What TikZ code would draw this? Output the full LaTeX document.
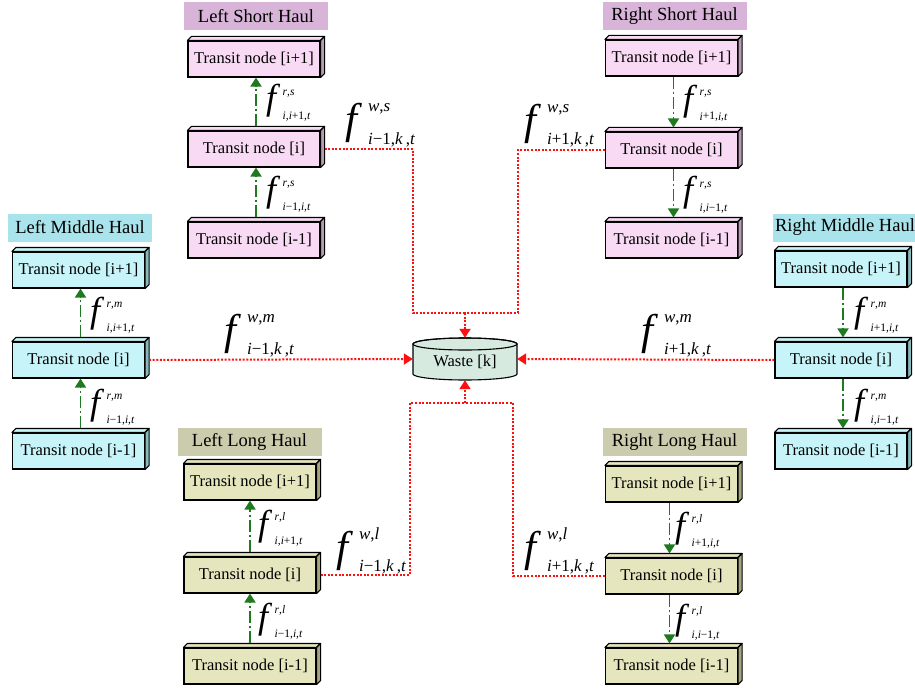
\documentclass[tikz,border=0pt]{standalone}
\usepackage{fontspec}
\setmainfont{Liberation Serif}
\usetikzlibrary{arrows.meta}

\definecolor{pinkbox}{HTML}{F9DAF4}
\definecolor{pinkside}{HTML}{B99AB4}
\definecolor{pinklab}{HTML}{D8B5D8}
\definecolor{cyanbox}{HTML}{C6F4F8}
\definecolor{cyanside}{HTML}{86B8BC}
\definecolor{cyanlab}{HTML}{A9E4EC}
\definecolor{olivebox}{HTML}{E5E5BE}
\definecolor{oliveside}{HTML}{A5A57E}
\definecolor{olivelab}{HTML}{CBCBAD}
\definecolor{wastefill}{HTML}{D6EAE0}
\definecolor{flowgreen}{HTML}{1F7A1F}
\definecolor{wastered}{HTML}{FF1010}

\tikzset{
  tnode/.style={draw=black, line width=1.1pt, minimum width=132pt, minimum height=36pt,
    inner sep=0pt, font=\fontsize{16.5}{18}\selectfont},
  haul/.style={minimum width=144pt, minimum height=28pt, inner sep=0pt,
    font=\fontsize{18.5}{20}\selectfont},
  flow/.style={draw=flowgreen, line width=1.8pt, dash pattern=on 12pt off 3pt on 2pt off 3pt,
    -{Triangle[width=11pt,length=9pt]}},
  wline/.style={draw=wastered, line width=2pt, dash pattern=on 2pt off 1.6pt},
  warrow/.style={wline, -{Triangle[width=11pt,length=9pt]}},
  lab/.style={anchor=base west, inner sep=0pt},
}

% three-dimensional transit box: name, x, y, colour family, text
\newcommand{\transitbox}[5]{%
  \node[tnode, fill=#4box] (#1) at (#2,#3) {#5};
  \filldraw[fill=#4box, draw=black, line width=1.1pt, line join=round]
    (#1.north west) -- ++(4pt,4pt) -- ([shift={(4pt,4pt)}]#1.north east)
    -- (#1.north east) -- cycle;
  \filldraw[fill=#4side, draw=black, line width=1.1pt, line join=round]
    (#1.north east) -- ++(4pt,4pt) -- ([shift={(4pt,4pt)}]#1.south east)
    -- (#1.south east) -- cycle;
}

% flow symbols with super- and subscripts
\newcommand{\fsmall}[2]{{\fontsize{36}{36}\selectfont\itshape f}\hspace{6.5pt}%
  {\fontsize{11.5}{12}\selectfont\rlap{\raisebox{14.5pt}{#1}}\raisebox{-9.5pt}{#2}}}
\newcommand{\fbig}[2]{{\fontsize{43}{43}\selectfont\itshape f}\hspace{11pt}%
  {\fontsize{17}{18}\selectfont\rlap{\raisebox{22pt}{#1}}\raisebox{-10pt}{#2}}}
\newcommand{\vi}[1]{\textit{#1}}

\begin{document}
\begin{tikzpicture}[x=1pt, y=-1pt]
\useasboundingbox (0,0) rectangle (915,690);

% haul titles
\node[haul, fill=pinklab]  (lsh) at (256,16)    {Left Short Haul};
\node[haul, fill=pinklab]  (rsh) at (674.5,16)  {Right Short Haul};
\node[haul, fill=cyanlab]  (lmh) at (80,227.5)  {Left Middle Haul};
\node[haul, fill=cyanlab]  (rmh) at (845,227.5) {Right Middle Haul};
\node[haul, fill=olivelab] (llh) at (249.5,442) {Left Long Haul};
\node[haul, fill=olivelab] (rlh) at (674.5,442) {Right Long Haul};

% transit nodes
\transitbox{ls1}{254}{59}{pink}{Transit node [i+1]}
\transitbox{ls2}{254}{149}{pink}{Transit node [i]}
\transitbox{ls3}{254}{240}{pink}{Transit node [i-1]}

\transitbox{rs1}{671.5}{58}{pink}{Transit node [i+1]}
\transitbox{rs2}{671.5}{150}{pink}{Transit node [i]}
\transitbox{rs3}{671.5}{240}{pink}{Transit node [i-1]}

\transitbox{lm1}{78.5}{270}{cyan}{Transit node [i+1]}
\transitbox{lm2}{78.5}{360}{cyan}{Transit node [i]}
\transitbox{lm3}{78.5}{451}{cyan}{Transit node [i-1]}

\transitbox{rm1}{841}{269}{cyan}{Transit node [i+1]}
\transitbox{rm2}{841}{360}{cyan}{Transit node [i]}
\transitbox{rm3}{841}{451}{cyan}{Transit node [i-1]}

\transitbox{ll1}{250}{482}{olive}{Transit node [i+1]}
\transitbox{ll2}{250}{575}{olive}{Transit node [i]}
\transitbox{ll3}{250}{666}{olive}{Transit node [i-1]}

\transitbox{rl1}{671.5}{484}{olive}{Transit node [i+1]}
\transitbox{rl2}{671.5}{576}{olive}{Transit node [i]}
\transitbox{rl3}{671.5}{666}{olive}{Transit node [i-1]}

% waste site
\begin{scope}[shift={(465,359)}, x=1pt, y=1pt]
  \filldraw[fill=wastefill, draw=black, line width=1.1pt]
    (-52,15) -- (-52,-15) arc[start angle=180, end angle=360, x radius=52pt, y radius=6pt]
    -- (52,15) arc[start angle=0, end angle=180, x radius=52pt, y radius=6pt] -- cycle;
  \draw[line width=1.1pt] (0,15) ellipse[x radius=52pt, y radius=6pt];
\end{scope}
\node[minimum width=104pt, minimum height=42pt, inner sep=0pt] (waste) at (465,359) {};
\node[inner sep=0pt, font=\fontsize{16.5}{18}\selectfont] (wastetext) at (465,362) {Waste [k]};

% waste flows
\coordinate (tl) at (413,313);
\coordinate (tr) at (518,313);
\coordinate (tm) at (465,313);
\coordinate (bl) at (410,403);
\coordinate (br) at (513,403);
\coordinate (bm) at (465,403);

\draw[wline] ([xshift=4pt]ls2.east) -| (tl) -- (tm);
\draw[wline] (rs2.west) -| (tr) -- (tm);
\draw[warrow] (tm) -- (waste.north);

\draw[wline] ([xshift=4pt]ll2.east) -| (bl) -- (bm);
\draw[wline] (rl2.west) -| (br) -- (bm);
\draw[warrow] (bm) -- (waste.south);

\draw[warrow] ([xshift=4pt]lm2.east) -- (waste.west);
\draw[warrow] (rm2.west) -- (waste.east);

% transit flows
\draw[flow] ([shift={(2pt,4pt)}]ls3.north) -- ([xshift=2pt]ls2.south);
\draw[flow] ([shift={(2pt,4pt)}]ls2.north) -- ([xshift=2pt]ls1.south);
\draw[flow] ([xshift=2pt]rs1.south) -- ([shift={(2pt,4pt)}]rs2.north);
\draw[flow] ([xshift=2pt]rs2.south) -- ([shift={(2pt,4pt)}]rs3.north);

\draw[flow] ([shift={(2pt,4pt)}]lm3.north) -- ([xshift=2pt]lm2.south);
\draw[flow] ([shift={(2pt,4pt)}]lm2.north) -- ([xshift=2pt]lm1.south);
\draw[flow] ([xshift=2pt]rm1.south) -- ([shift={(2pt,4pt)}]rm2.north);
\draw[flow] ([xshift=2pt]rm2.south) -- ([shift={(2pt,4pt)}]rm3.north);

\draw[flow] ([shift={(0pt,4pt)}]ll3.north) -- (ll2.south);
\draw[flow] ([shift={(0pt,4pt)}]ll2.north) -- (ll1.south);
\draw[flow] ([xshift=-2pt]rl1.south) -- ([shift={(-2pt,4pt)}]rl2.north);
\draw[flow] ([xshift=-2pt]rl2.south) -- ([shift={(-2pt,4pt)}]rl3.north);

% transit flow labels
\node[lab] (fls1) at (266,110)   {\fsmall{\vi{r},\vi{s}}{\vi{i},\vi{i}+1,\vi{t}}};
\node[lab] (fls2) at (266,201)   {\fsmall{\vi{r},\vi{s}}{\vi{i}−1,\vi{i},\vi{t}}};
\node[lab] (frs1) at (683,110.5) {\fsmall{\vi{r},\vi{s}}{\vi{i}+1,\vi{i},\vi{t}}};
\node[lab] (frs2) at (683,201.5) {\fsmall{\vi{r},\vi{s}}{\vi{i},\vi{i}−1,\vi{t}}};

\node[lab] (flm1) at (90,322)  {\fsmall{\vi{r},\vi{m}}{\vi{i},\vi{i}+1,\vi{t}}};
\node[lab] (flm2) at (90,414)  {\fsmall{\vi{r},\vi{m}}{\vi{i}−1,\vi{i},\vi{t}}};
\node[lab] (frm1) at (854,322) {\fsmall{\vi{r},\vi{m}}{\vi{i}+1,\vi{i},\vi{t}}};
\node[lab] (frm2) at (854,414) {\fsmall{\vi{r},\vi{m}}{\vi{i},\vi{i}−1,\vi{t}}};

\node[lab] (fll1) at (258,535) {\fsmall{\vi{r},\vi{l}}{\vi{i},\vi{i}+1,\vi{t}}};
\node[lab] (fll2) at (258,628) {\fsmall{\vi{r},\vi{l}}{\vi{i}−1,\vi{i},\vi{t}}};
\node[lab] (frl1) at (675,537) {\fsmall{\vi{r},\vi{l}}{\vi{i}+1,\vi{i},\vi{t}}};
\node[lab] (frl2) at (675,629) {\fsmall{\vi{r},\vi{l}}{\vi{i},\vi{i}−1,\vi{t}}};

% waste flow labels
\node[lab] (fws1) at (345,134) {\fbig{\vi{w},\vi{s}}{\vi{i}−1,\vi{k}\,,\vi{t}}};
\node[lab] (fws2) at (524,135) {\fbig{\vi{w},\vi{s}}{\vi{i}+1,\vi{k}\,,\vi{t}}};
\node[lab] (fwm1) at (224,344) {\fbig{\vi{w},\vi{m}}{\vi{i}−1,\vi{k}\,,\vi{t}}};
\node[lab] (fwm2) at (641,344) {\fbig{\vi{w},\vi{m}}{\vi{i}+1,\vi{k}\,,\vi{t}}};
\node[lab] (fwl1) at (336,561) {\fbig{\vi{w},\vi{l}}{\vi{i}−1,\vi{k}\,,\vi{t}}};
\node[lab] (fwl2) at (524,561) {\fbig{\vi{w},\vi{l}}{\vi{i}+1,\vi{k}\,,\vi{t}}};
\end{tikzpicture}
\end{document}
